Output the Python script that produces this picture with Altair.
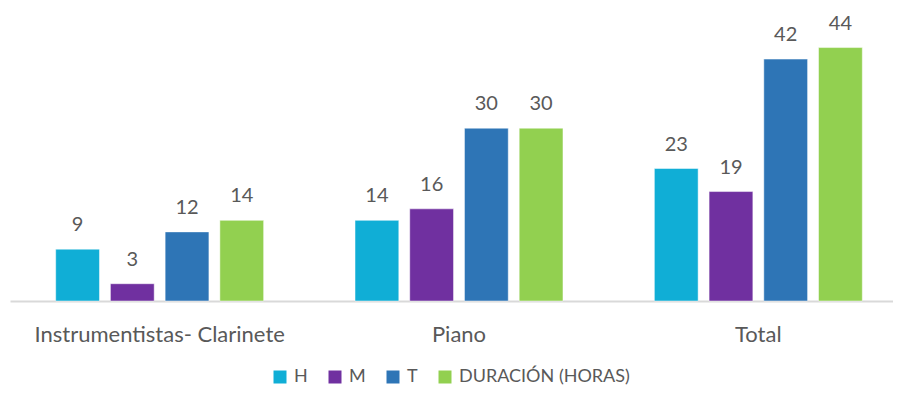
import altair as alt
import pandas as pd

categories = ["Instrumentistas- Clarinete", "Piano", "Total"]
series = ["H", "M", "T", "DURACIÓN (HORAS)"]
h_vals = [9, 14, 23]
m_vals = [3, 16, 19]
t_vals = [12, 30, 42]
d_vals = [14, 30, 44]

bar_colors = ["#10AED6", "#7030A0", "#2E75B6", "#92D050"]

rows = []
for s, vals in zip(series, [h_vals, m_vals, t_vals, d_vals]):
    for c, v in zip(categories, vals):
        rows.append({"cat": c, "serie": s, "value": v})
df = pd.DataFrame(rows)

FONT = "Lato"
TXT = "#595959"

x_enc = alt.X("cat:N", sort=categories, title=None,
              scale=alt.Scale(range=[0, 898], paddingInner=0, paddingOuter=0),
              axis=alt.Axis(labelAngle=0, ticks=False, labelFontSize=22, labelFont=FONT,
                            labelColor=TXT, domainColor="#D9D9D9", domainWidth=2,
                            labelBaseline="alphabetic", labelPadding=40,
                            labelLimit=0, grid=False))
xo_enc = alt.XOffset("serie:N", sort=series,
                     scale=alt.Scale(paddingInner=0.2, paddingOuter=0.835))
y_enc = alt.Y("value:Q", axis=None, scale=alt.Scale(domain=[0, 50], nice=False))

base = alt.Chart(df)

bars = base.mark_bar(stroke="white", strokeWidth=0.8, strokeOpacity=0.6).encode(
    x=x_enc, xOffset=xo_enc, y=y_enc,
    color=alt.Color("serie:N", sort=series,
                    scale=alt.Scale(domain=series, range=bar_colors),
                    legend=alt.Legend(orient="none", legendX=261, legendY=355,
                                      direction="horizontal", title=None,
                                      symbolType="square", symbolSize=169,
                                      symbolStrokeWidth=0, symbolOpacity=1,
                                      labelFont=FONT, labelFontSize=18, labelColor=TXT,
                                      labelLimit=0, labelOffset=5, columnPadding=18)),
)

labels = base.mark_text(baseline="alphabetic", dy=-18, fontSize=20, font=FONT, color=TXT).encode(
    x=x_enc, xOffset=xo_enc, y=y_enc, text=alt.Text("value:Q"),
)

chart = alt.layer(bars, labels).properties(
    width=875, height=288,
    padding={"left": 2, "top": 5, "right": 8, "bottom": 87},
    autosize=alt.AutoSizeParams(type="none"),
).configure_view(stroke=None)

chart.save("out.html", embed_options={"renderer": "svg", "actions": False})
